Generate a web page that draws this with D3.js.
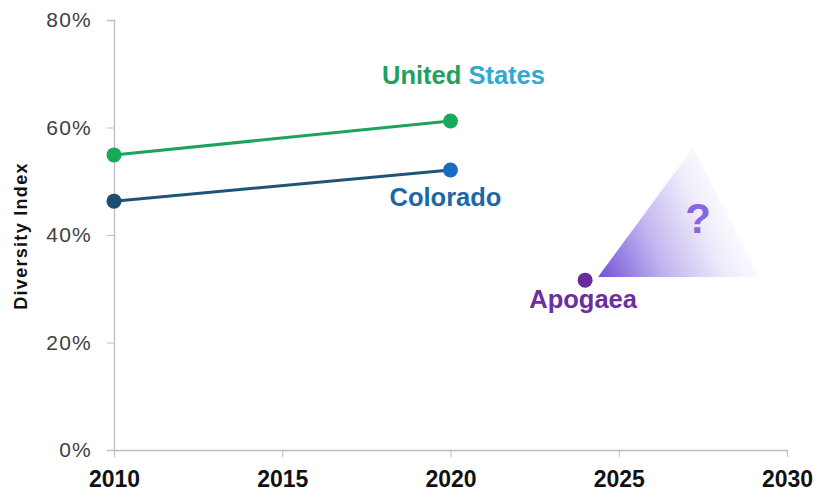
<!DOCTYPE html>
<html><head><meta charset="utf-8">
<script src="https://cdn.jsdelivr.net/npm/d3@7"></script>
<style>body{margin:0;background:#fff}svg{display:block}</style>
</head><body>
<svg id="c" width="814" height="495"></svg>
<script>
const xTicks = [2010, 2015, 2020, 2025, 2030];
const yTicks = [0, 0.2, 0.4, 0.6, 0.8];
const usYears = [2010, 2020];
const usValues = [0.549, 0.612];
const coYears = [2010, 2020];
const coValues = [0.463, 0.521];
const apYear = [2024];
const apValue = [0.316];

const svg = d3.select("#c");
const x = d3.scaleLinear().domain([2010, 2030]).range([114, 787]);
const y = d3.scaleLinear().domain([0, 0.8]).range([450, 20]);
const lf = "Liberation Sans, Arial, sans-serif";

// axes
const gy = svg.append("g").attr("transform", "translate(114,0)")
  .call(d3.axisLeft(y).tickValues(yTicks).tickFormat(d3.format(".0%")).tickSize(7).tickPadding(15));
gy.select(".domain").attr("stroke", "#bdbdbd").attr("stroke-width", 1.3);
gy.selectAll(".tick line").attr("stroke", "#bdbdbd");
gy.selectAll(".tick text").attr("font-family", lf).attr("font-size", 21)
  .attr("letter-spacing", 1.2).attr("fill", "#404040");

const gx = svg.append("g").attr("transform", "translate(0,450)")
  .call(d3.axisBottom(x).tickValues(xTicks).tickFormat(d3.format("d")).tickSize(7).tickSizeOuter(0).tickPadding(14));
gx.select(".domain").attr("stroke", "#bdbdbd").attr("stroke-width", 1.3);
gx.selectAll(".tick line").attr("stroke", "#bdbdbd");
gx.selectAll(".tick text").attr("font-family", lf).attr("font-weight", "bold").attr("font-size", 23).attr("fill", "#111");

svg.append("text").attr("transform", "translate(27,236) rotate(-90)")
  .attr("text-anchor", "middle").attr("font-family", lf).attr("letter-spacing", 1.3)
  .attr("font-weight", "bold").attr("font-size", 18).attr("fill", "#111").text("Diversity Index");

// gradient triangle
const defs = svg.append("defs");
const grad = defs.append("linearGradient").attr("id", "tg")
  .attr("gradientUnits", "userSpaceOnUse").attr("x1", 600).attr("y1", 277).attr("x2", 740).attr("y2", 212);
grad.append("stop").attr("offset", 0).attr("stop-color", "#7354d9");
grad.append("stop").attr("offset", 0.4).attr("stop-color", "#c3b5ef");
grad.append("stop").attr("offset", 0.75).attr("stop-color", "#efebfb");
grad.append("stop").attr("offset", 1).attr("stop-color", "#ffffff");
svg.append("path").attr("d", "M598,277 L693,148 L760,277 Z").attr("fill", "url(#tg)");
svg.append("text").attr("x", 698).attr("y", 233).attr("text-anchor", "middle")
  .attr("font-family", lf).attr("font-weight", "bold")
  .attr("font-size", 42).attr("fill", "#8667dd").text("?");

// lines
const line = d3.line().x(d => x(d[0])).y(d => y(d[1]));
const us = usYears.map((d, i) => [d, usValues[i]]);
const co = coYears.map((d, i) => [d, coValues[i]]);
svg.append("path").attr("d", line(us)).attr("fill", "none").attr("stroke", "#1da35c").attr("stroke-width", 3);
svg.append("path").attr("d", line(co)).attr("fill", "none").attr("stroke", "#1f5478").attr("stroke-width", 3);

svg.selectAll(".usp").data(us).enter().append("circle")
  .attr("cx", d => x(d[0])).attr("cy", d => y(d[1])).attr("r", 7.5).attr("fill", "#19a95b");
svg.selectAll(".cop").data(co).enter().append("circle")
  .attr("cx", d => x(d[0])).attr("cy", d => y(d[1])).attr("r", 7.5)
  .attr("fill", (d, i) => i === 0 ? "#1d4e72" : "#1a6cc2");
svg.selectAll(".app").data(apYear).enter().append("circle")
  .attr("cx", d => x(d)).attr("cy", (d, i) => y(apValue[i])).attr("r", 7.5).attr("fill", "#6a2b9e");

// labels
const us_t = svg.append("text").attr("x", x(2020) + 13).attr("y", 84).attr("text-anchor", "middle")
  .attr("font-family", lf).attr("font-weight", "bold").attr("font-size", 25.5);
us_t.append("tspan").attr("fill", "#22a061").text("United ");
us_t.append("tspan").attr("fill", "#33a8d2").text("States");
svg.append("text").attr("x", x(2020) - 5).attr("y", 206).attr("text-anchor", "middle")
  .attr("font-family", lf).attr("font-weight", "bold").attr("font-size", 25.5).attr("fill", "#1d67a8").text("Colorado");
svg.append("text").attr("x", x(apYear[0]) - 2).attr("y", 308).attr("text-anchor", "middle")
  .attr("font-family", lf).attr("font-weight", "bold").attr("font-size", 25.5).attr("fill", "#6b2f9f").text("Apogaea");
</script>
</body></html>
